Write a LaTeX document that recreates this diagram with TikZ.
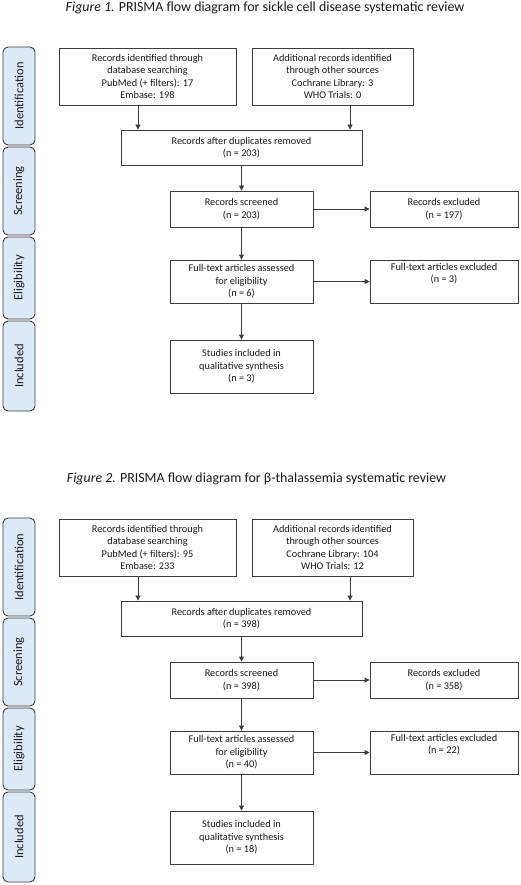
\documentclass[tikz,border=0pt]{standalone}
\usepackage{fontspec}
\setmainfont{Carlito}
\usetikzlibrary{arrows.meta}
\definecolor{tabfill}{HTML}{DCE9F7}
\definecolor{edge}{HTML}{3C3C3C}
\definecolor{ink}{HTML}{1A1A1A}
\tikzset{
  box/.style={draw=edge, line width=0.9pt, fill=white, inner sep=0pt, align=center,
    text=ink, font=\fontsize{10.3}{12.6}\selectfont},
  tab/.style={draw=edge, line width=0.9pt, fill=tabfill, rounded corners=5pt, inner sep=0pt,
    minimum height=32pt, rotate=90, text=ink, font=\fontsize{12.5}{14}\selectfont},
  arr/.style={draw=edge, line width=0.9pt, -{Triangle[length=5pt,width=5pt]}},
  ttl/.style={text=ink, font=\fontsize{13.9}{16}\selectfont, inner sep=0pt}
}
\newcommand\prisma[9]{%
  \node[box, minimum width=177pt, minimum height=57pt] (#1A) at (147.5,76.5)
    {Records identified through\\database searching\\PubMed (+ filters): #2\\Embase: #3};
  \node[box, minimum width=161pt, minimum height=57pt] (#1B) at (332.5,76.5)
    {Additional records identified\\through other sources\\Cochrane Library: #4\\WHO Trials: #5};
  \node[box, minimum width=241pt, minimum height=35pt] (#1D) at (241.5,147.5)
    {Records after duplicates removed\\(n = #6)};
  \node[box, minimum width=143pt, minimum height=36pt] (#1S) at (241.5,209)
    {Records screened\\(n = #6)};
  \node[box, minimum width=148pt, minimum height=36pt] (#1E) at (444,209)
    {Records excluded\\(n = #7)};
  \node[box, minimum width=143pt, minimum height=43pt] (#1F) at (241.5,281.5)
    {Full-text articles assessed\\for eligibility\\(n = #8)};
  \node[box, minimum width=148pt, minimum height=43pt, text depth=17pt] (#1G) at (444,281.5)
    {Full-text articles excluded\\(n = #9)};
  \node[box, minimum width=143pt, minimum height=53pt] (#1I) at (241.5,366.5)
    {Studies included in\\qualitative synthesis\\(n = \csname inc#1\endcsname)};
  \draw[arr] ([xshift=-9.5pt]#1A.south) -- ([xshift=-9.5pt]#1A.south |- #1D.north);
  \draw[arr] ([xshift=17.5pt]#1B.south) -- ([xshift=17.5pt]#1B.south |- #1D.north);
  \draw[arr] (#1D) -- (#1S);
  \draw[arr] (#1S) -- (#1F);
  \draw[arr] (#1F) -- (#1I);
  \draw[arr] (#1S) -- (#1E);
  \draw[arr] (#1F.east) -- (#1F.east -| #1G.west);
  \node[tab, minimum width=98pt] (#1t1) at (19,96) {Identification};
  \node[tab, minimum width=88pt] (#1t2) at (19,191) {Screening};
  \node[tab, minimum width=82pt] (#1t3) at (19,278) {Eligibility};
  \node[tab, minimum width=90pt] (#1t4) at (19,366) {Included};
}
\def\incp{3}
\def\incq{18}
\begin{document}
\begin{tikzpicture}[x=1pt,y=-1pt]
  \useasboundingbox[fill=white] (0,0) rectangle (520,885);
  \node[ttl] (title1) at (265,8) {\textit{Figure 1.} PRISMA flow diagram for sickle cell disease systematic review};
  \prisma{p}{17}{198}{3}{0}{203}{197}{6}{3}
  \begin{scope}[yshift=-471pt]
    \node[ttl] (title2) at (256.5,8) {\textit{Figure 2.} PRISMA flow diagram for β-thalassemia systematic review};
    \prisma{q}{95}{233}{104}{12}{398}{358}{40}{22}
  \end{scope}
\end{tikzpicture}
\end{document}
